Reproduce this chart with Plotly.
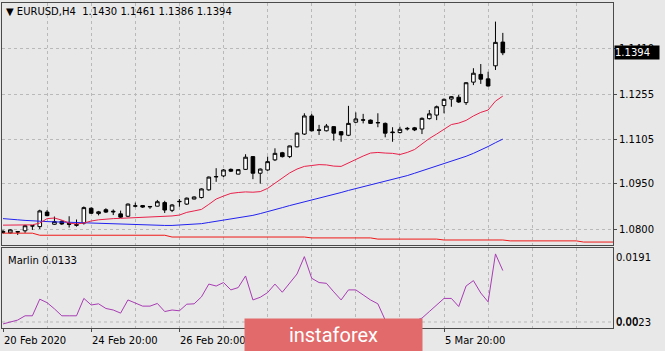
import plotly.graph_objects as go

# ---------------- data (EURUSD H4) ----------------
open_ = [1.0792, 1.0787, 1.0791, 1.0794, 1.0810, 1.0808, 1.0857, 1.0816, 1.0826, 1.0819,
         1.0815, 1.0820, 1.0870, 1.0852, 1.0865, 1.0860, 1.0851, 1.0843, 1.0877, 1.0879,
         1.0876, 1.0877, 1.0889, 1.0863, 1.0892, 1.0884, 1.0901, 1.0906, 1.0932, 1.0977,
         1.0979, 1.1001, 1.0985, 1.1001, 1.1044, 1.0988, 1.0999, 1.1033, 1.1057, 1.1044,
         1.1077, 1.1120, 1.1181, 1.1134, 1.1131, 1.1145, 1.1128, 1.1116, 1.1160, 1.1168,
         1.1167, 1.1159, 1.1156, 1.1127, 1.1125, 1.1137, 1.1141, 1.1137, 1.1172, 1.1184,
         1.1216, 1.1238, 1.1244, 1.1226, 1.1295, 1.1321, 1.1306, 1.1350, 1.1430]
high = [1.0797, 1.0799, 1.0792, 1.0814, 1.0812, 1.0865, 1.0864, 1.0842, 1.0829, 1.0843,
        1.0832, 1.0876, 1.0873, 1.0861, 1.0870, 1.0866, 1.0862, 1.0886, 1.0889, 1.0881,
        1.0877, 1.0898, 1.0895, 1.0884, 1.0901, 1.0906, 1.0910, 1.0937, 1.0977, 1.1005,
        1.1002, 1.1004, 1.1002, 1.1052, 1.1046, 1.1004, 1.1044, 1.1072, 1.1060, 1.1081,
        1.1125, 1.1190, 1.1188, 1.1151, 1.1154, 1.1147, 1.1130, 1.1215, 1.1193, 1.1188,
        1.1169, 1.1190, 1.1159, 1.1143, 1.1145, 1.1144, 1.1144, 1.1176, 1.1201, 1.1216,
        1.1240, 1.1248, 1.1252, 1.1295, 1.1342, 1.1356, 1.1330, 1.1499, 1.1461]
low = [1.0784, 1.0785, 1.0780, 1.0787, 1.0797, 1.0800, 1.0843, 1.0814, 1.0814, 1.0805,
       1.0808, 1.0815, 1.0851, 1.0846, 1.0854, 1.0847, 1.0837, 1.0840, 1.0873, 1.0871,
       1.0868, 1.0876, 1.0854, 1.0857, 1.0875, 1.0881, 1.0900, 1.0903, 1.0929, 1.0959,
       1.0975, 1.0992, 1.0984, 1.0999, 1.0968, 1.0953, 1.0996, 1.1029, 1.1041, 1.1039,
       1.1075, 1.1117, 1.1129, 1.1117, 1.1129, 1.1098, 1.1094, 1.1113, 1.1157, 1.1156,
       1.1154, 1.1143, 1.1109, 1.1094, 1.1122, 1.1132, 1.1130, 1.1120, 1.1169, 1.1167,
       1.1190, 1.1212, 1.1225, 1.1218, 1.1285, 1.1289, 1.1280, 1.1336, 1.1386]
close = [1.0789, 1.0797, 1.0790, 1.0811, 1.0811, 1.0861, 1.0845, 1.0825, 1.0817, 1.0816,
         1.0813, 1.0872, 1.0853, 1.0858, 1.0857, 1.0858, 1.0840, 1.0884, 1.0878, 1.0874,
         1.0875, 1.0892, 1.0864, 1.0881, 1.0893, 1.0904, 1.0908, 1.0935, 1.0975, 1.0976,
         1.0999, 1.0995, 1.1000, 1.1042, 1.0988, 1.1002, 1.1027, 1.1055, 1.1044, 1.1080,
         1.1123, 1.1181, 1.1131, 1.1133, 1.1147, 1.1123, 1.1117, 1.1156, 1.1171, 1.1167,
         1.1156, 1.1158, 1.1123, 1.1125, 1.1136, 1.1139, 1.1134, 1.1173, 1.1188, 1.1212,
         1.1237, 1.1246, 1.1228, 1.1293, 1.1325, 1.1305, 1.1282, 1.1429, 1.1394]

ma_fast = [1.0813, 1.0813, 1.0813, 1.0813, 1.0814, 1.0820, 1.0835, 1.0837, 1.0830, 1.0820,
           1.0817, 1.0820, 1.0827, 1.0831, 1.0834, 1.0835, 1.0836, 1.0837, 1.0839, 1.0840,
           1.0841, 1.0842, 1.0843, 1.0844, 1.0847, 1.0856, 1.0861, 1.0866, 1.0883, 1.0901,
           1.0911, 1.0920, 1.0923, 1.0925, 1.0924, 1.0926, 1.0937, 1.0955, 1.0972, 1.0989,
           1.1002, 1.1011, 1.1014, 1.1017, 1.1016, 1.1012, 1.1011, 1.1023, 1.1034, 1.1046,
           1.1056, 1.1058, 1.1056, 1.1055, 1.1051, 1.1058, 1.1068, 1.1087, 1.1105, 1.1120,
           1.1137, 1.1152, 1.1157, 1.1166, 1.1181, 1.1193, 1.1201, 1.1231, 1.1248]
ma_mid = [1.0835, 1.0834, 1.0831, 1.0829, 1.0827, 1.0825, 1.0825, 1.0824, 1.0824, 1.0823,
          1.0822, 1.0821, 1.0820, 1.0819, 1.0818, 1.0817, 1.0816, 1.0815, 1.0814, 1.0813,
          1.0812, 1.0812, 1.0812, 1.0812, 1.0813, 1.0815, 1.0816, 1.0818, 1.0822, 1.0826,
          1.0829, 1.0833, 1.0836, 1.0841, 1.0846, 1.0852, 1.0858, 1.0865, 1.0872, 1.0879,
          1.0885, 1.0891, 1.0898, 1.0905, 1.0911, 1.0917, 1.0923, 1.0930, 1.0936, 1.0942,
          1.0948, 1.0954, 1.0961, 1.0967, 1.0974, 1.0980, 1.0988, 1.0996, 1.1003, 1.1011,
          1.1019, 1.1028, 1.1036, 1.1045, 1.1055, 1.1066, 1.1078, 1.1091, 1.1103]
ma_slow = [1.0786, 1.0786, 1.0786, 1.0786, 1.0786, 1.0779, 1.0779, 1.0779, 1.0779, 1.0779,
           1.0779, 1.0779, 1.0779, 1.0779, 1.0779, 1.0779, 1.0779, 1.0779, 1.0779, 1.0779,
           1.0779, 1.0779, 1.0779, 1.0773, 1.0773, 1.0773, 1.0773, 1.0773, 1.0773, 1.0773,
           1.0773, 1.0773, 1.0773, 1.0773, 1.0773, 1.0773, 1.0773, 1.0773, 1.0773, 1.0773,
           1.0773, 1.0773, 1.0770, 1.0770, 1.0770, 1.0770, 1.0770, 1.0770, 1.0770, 1.0770,
           1.0770, 1.0766, 1.0766, 1.0766, 1.0766, 1.0766, 1.0766, 1.0766, 1.0766, 1.0766,
           1.0763, 1.0763, 1.0763, 1.0763, 1.0763, 1.0763, 1.0763, 1.0763, 1.0763, 1.0760,
           1.0760, 1.0760, 1.0760, 1.0760, 1.0760, 1.0760, 1.0760, 1.0760, 1.0760, 1.0756,
           1.0756, 1.0756, 1.0756, 1.0756]
marlin = [0.0018, 0.0023, 0.0028, 0.0039, 0.0039, 0.0082, 0.0073, 0.0057, 0.0039, 0.0039,
          0.0039, 0.0084, 0.0067, 0.0070, 0.0058, 0.0054, 0.0046, 0.0080, 0.0073, 0.0064,
          0.0064, 0.0071, 0.0050, 0.0054, 0.0052, 0.0069, 0.0070, 0.0088, 0.0121, 0.0116,
          0.0125, 0.0106, 0.0112, 0.0142, 0.0080, 0.0087, 0.0099, 0.0121, 0.0100, 0.0123,
          0.0147, 0.0192, 0.0136, 0.0125, 0.0123, 0.0101, 0.0080, 0.0106, 0.0106, 0.0093,
          0.0080, 0.0070, 0.0028, 0.0018, 0.0015, 0.0018, 0.0026, 0.0033, 0.0050, 0.0067,
          0.0084, 0.0084, 0.0063, 0.0116, 0.0130, 0.0098, 0.0075, 0.0199, 0.0156]

price_tickvals = [1.0800, 1.0952, 1.1103, 1.1255, 1.1410]
price_ticktext = ['1.0800', '1.0950', '1.1105', '1.1255', '1.1410']
ind_tickvals = [0.0191, 0.0023]
ind_ticktext = ['0.0191', '0.0023']
date_label_idx = [0, 12, 24, 36, 48, 60]
date_label_text = ['20 Feb 2020', '24 Feb 20:00', '26 Feb 20:00', '28 Feb 20:00',
                   '3 Mar 20:00', '5 Mar 20:00']
grid_idx = [6, 18, 30, 42, 54, 66, 72, 78]
title_text = '\u25BC EURUSD,H4  1.1430 1.1461 1.1386 1.1394'
ind_title = 'Marlin 0.0133'
last_price = 1.1394

# ---------------- layout geometry ----------------
W, H = 665, 351
ML, MR, MT, MB = 2, 52, 3, 23
PW = W - ML - MR
PH = H - MT - MB


def pxx(px):
    return (px - ML) / PW


def pxy(py):
    return (H - MB - py) / PH


FONT = 'DejaVu Sans, Liberation Sans, sans-serif'
BG = '#E8E8E8'
GRID = '#B9B9B9'
FRAME = '#4A4A4A'

idx = list(range(len(open_)))
idx_slow = list(range(len(ma_slow)))

fig = go.Figure()
fig.add_trace(go.Candlestick(
    x=idx, open=open_, high=high, low=low, close=close,
    increasing=dict(line=dict(color='black', width=1), fillcolor='white'),
    decreasing=dict(line=dict(color='black', width=1), fillcolor='black'),
    whiskerwidth=0, xaxis='x', yaxis='y', hoverinfo='skip', showlegend=False))
fig.add_trace(go.Scatter(x=idx_slow, y=ma_slow, mode='lines',
                         line=dict(color='#F01818', width=1), xaxis='x', yaxis='y',
                         showlegend=False, hoverinfo='skip'))
fig.add_trace(go.Scatter(x=idx, y=ma_mid, mode='lines',
                         line=dict(color='#2222F0', width=1), xaxis='x', yaxis='y',
                         showlegend=False, hoverinfo='skip'))
fig.add_trace(go.Scatter(x=idx, y=ma_fast, mode='lines',
                         line=dict(color='#E8204A', width=1), xaxis='x', yaxis='y',
                         showlegend=False, hoverinfo='skip'))
fig.add_trace(go.Scatter(x=idx, y=marlin, mode='lines',
                         line=dict(color='#A83CB4', width=1), xaxis='x2', yaxis='y2',
                         showlegend=False, hoverinfo='skip'))

xr = [-0.136, 82.99]
xcommon = dict(range=xr, showline=True, mirror=True, linecolor=FRAME, linewidth=1,
               tickvals=date_label_idx, showticklabels=False,
               showgrid=True, gridcolor=GRID, griddash='dot', gridwidth=1,
               minor=dict(tickvals=grid_idx, showgrid=True, gridcolor=GRID,
                          griddash='dot', gridwidth=1, ticks=''),
               zeroline=False, fixedrange=True)

fig.update_layout(
    width=W, height=H,
    margin=dict(l=ML, r=MR, t=MT, b=MB, pad=0),
    paper_bgcolor=BG, plot_bgcolor=BG,
    font=dict(family=FONT, size=10, color='black'),
    xaxis=dict(**xcommon, anchor='y', domain=[0, 1], ticks='',
               rangeslider=dict(visible=False)),
    xaxis2=dict(**xcommon, anchor='y2', domain=[0, 1], matches='x',
                ticks='outside', ticklen=3, tickcolor=FRAME),
    yaxis=dict(domain=[pxy(245), pxy(3)], range=[1.07461, 1.15617], side='right',
               tickvals=price_tickvals, ticktext=price_ticktext,
               ticks='outside', ticklen=3, tickcolor=FRAME,
               showline=True, mirror=True, linecolor=FRAME, linewidth=1,
               showgrid=True, gridcolor=GRID, griddash='dot', gridwidth=1,
               zeroline=False, anchor='x', fixedrange=True,
               tickfont=dict(family=FONT, size=10, color='black')),
    yaxis2=dict(domain=[0, pxy(248)], range=[0.00075, 0.02143], side='right',
                tickvals=ind_tickvals, ticktext=ind_ticktext,
                ticks='', showline=True, mirror=True, linecolor=FRAME, linewidth=1,
                showgrid=False, zeroline=False, anchor='x2', fixedrange=True,
                tickfont=dict(family=FONT, size=10, color='black')),
    showlegend=False,
)

# level line in indicator window
fig.add_shape(type='line', xref='x2', yref='y2', x0=xr[0], x1=xr[1],
              y0=ind_tickvals[1], y1=ind_tickvals[1],
              line=dict(color=GRID, width=1, dash='dot'), layer='below')

ann = []
ann.append(dict(xref='paper', yref='paper', x=pxx(4), y=pxy(12), xanchor='left',
                yanchor='middle', text=title_text, showarrow=False,
                font=dict(family=FONT, size=10, color='black')))
ann.append(dict(xref='paper', yref='paper', x=pxx(6), y=pxy(260), xanchor='left',
                yanchor='middle', text=ind_title, showarrow=False,
                font=dict(family=FONT, size=10, color='black')))
# overlapping "0.00" level label (as in the source terminal)
ann.append(dict(xref='paper', yref='y2', x=pxx(614), y=ind_tickvals[1], xanchor='left',
                yanchor='middle', text='0.00', showarrow=False, yshift=1,
                font=dict(family=FONT, size=10, color='black')))
# last price box
ann.append(dict(xref='paper', yref='y', x=pxx(614), y=last_price, xanchor='left',
                yanchor='middle', text='{:.4f}'.format(last_price), showarrow=False,
                bgcolor='black', width=44, height=13, align='left', borderpad=0,
                font=dict(family=FONT, size=10, color='white')))
for i, t in zip(date_label_idx, date_label_text):
    ann.append(dict(xref='x2', yref='paper', x=i, y=pxy(340), xanchor='left',
                    yanchor='middle', text=t, showarrow=False, xshift=-1,
                    font=dict(family=FONT, size=10, color='black')))
# watermark
ann.append(dict(xref='paper', yref='paper', x=pxx(333), y=pxy(335), xanchor='center',
                yanchor='middle', text='instaforex', showarrow=False,
                bgcolor='#E26A6A', width=177, height=32, borderpad=0,
                font=dict(family='Liberation Sans Narrow, Roboto, sans-serif',
                          size=20, color='white')))
fig.update_layout(annotations=ann)

fig.write_html('out.html')
